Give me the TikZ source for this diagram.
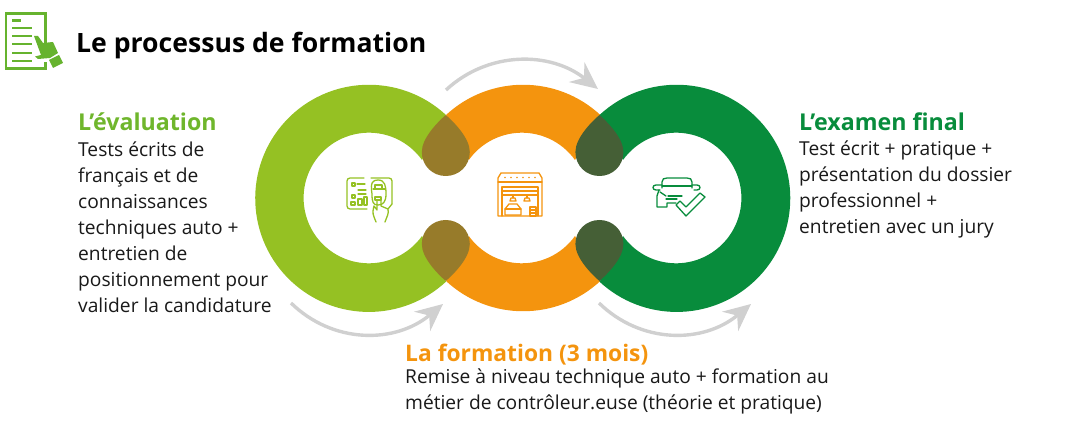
\documentclass[tikz,border=0pt]{standalone}
\usepackage{fontspec}
\setmainfont{Open Sans}
\usetikzlibrary{arrows.meta}
\definecolor{cLime}{HTML}{95C123}
\definecolor{cOrange}{HTML}{F4940E}
\definecolor{cGreen}{HTML}{088C3C}
\definecolor{cBrown}{HTML}{977B2A}
\definecolor{cDark}{HTML}{455F36}
\definecolor{cGrey}{HTML}{D0D0D0}
\definecolor{cDoc}{HTML}{66B32E}
\tikzset{
  bodytext/.style={anchor=north west,align=left,inner sep=0pt,font=\fontsize{19.2}{26}\selectfont,text=black!90},
  headtext/.style={anchor=base west,inner sep=0pt,font=\fontsize{23.2}{26}\selectfont\bfseries},
  flow/.style={draw=cGrey,line width=3.4pt,-{Stealth[length=27pt,width=25pt,inset=9pt]}},
  ic/.style={line width=1.3pt,line cap=round,line join=round,fill=none},
}
\begin{document}
\begin{tikzpicture}[x=1pt,y=-1pt]
\useasboundingbox (0,0) rectangle (1082,422);
% left ring
\fill[cLime] (446,115) arc[start angle=-47.2,end angle=-312.8,radius=113.6] -- (422,236) arc[start angle=35.6,end angle=324.4,radius=65.3] -- cycle;
% centre ring top and bottom
\fill[cOrange] (446,115) arc[start angle=-132.8,end angle=-47.2,radius=113.6] -- (575,160) arc[start angle=-35.6,end angle=-144.4,radius=65.3] -- cycle;
\fill[cOrange] (446,281) arc[start angle=132.8,end angle=47.2,radius=113.6] -- (575,236) arc[start angle=35.6,end angle=144.4,radius=65.3] -- cycle;
% right ring
\fill[cGreen] (599.5,115) arc[start angle=-132.8,end angle=132.8,radius=113.6] -- (623,236) arc[start angle=144.4,end angle=-144.4,radius=65.3] -- cycle;
% lobes
\def\lobetop#1#2{\fill[#2] (#1,115) .. controls (#1-8,122) and (#1-24,138) .. (#1-24,152) .. controls (#1-24,166) and (#1-13,176) .. (#1,176) .. controls (#1+13,176) and (#1+24,166) .. (#1+24,152) .. controls (#1+24,138) and (#1+8,122) .. (#1,115) -- cycle;}
\def\lobebot#1#2{\fill[#2] (#1,281) .. controls (#1-8,274) and (#1-24,258) .. (#1-24,244) .. controls (#1-24,230) and (#1-13,220) .. (#1,220) .. controls (#1+13,220) and (#1+24,230) .. (#1+24,244) .. controls (#1+24,258) and (#1+8,274) .. (#1,281) -- cycle;}
\lobetop{445.8}{cBrown}\lobebot{445.8}{cBrown}
\lobetop{599.4}{cDark}\lobebot{599.4}{cDark}
% flow arrows
\coordinate (a1s) at (446,90); \coordinate (a1e) at (598,89);
\coordinate (a2s) at (291,303); \coordinate (a2e) at (443,304);
\coordinate (a3s) at (599,303); \coordinate (a3e) at (751,304);
\draw[flow] (a1s) .. controls (488,51) and (550,51) .. (a1e);
\draw[flow] (a2s) .. controls (333,344) and (395,344) .. (a2e);
\draw[flow] (a3s) .. controls (641,344) and (703,344) .. (a3e);
% document icon
\draw[cDoc,line width=2.6pt] (45.5,43) -- (45.5,13.5) -- (6,13.5) -- (6,68.5) -- (45.5,68.5) -- (45.5,62);
\foreach \yy in {28,36,44,53,61} \draw[cDoc,line width=2.4pt] (12,\yy) -- (32,\yy);
\draw[cDoc,line width=2.4pt] (12,20.5) -- (20.5,20.5);
\fill[cDoc] (34,36) -- (38,36) -- (43,43) -- (53,42) -- (58,53) -- (50,58) -- (38,59) -- (35,56.5) -- (41,55) -- cycle;
\fill[cDoc] (49,60) -- (59,55) -- (63,63) -- (53,68) -- cycle;
% card icon
\begin{scope}[cLime,ic]
\draw (371,178) -- (389,178) arc[start angle=-90,end angle=0,radius=3] -- (392,204);
\draw (364,178) -- (350,178) arc[start angle=-90,end angle=-180,radius=3] -- (347,206) arc[start angle=180,end angle=90,radius=3] -- (367,209);
\draw (388,209) -- (392,204);
\draw (352,183) rectangle (355,186);
\draw (352,195) rectangle (355,198);
\draw (351,202) rectangle (355,205);
\draw (358,199) rectangle (362,205);
\draw (364,197) rectangle (367,205);
\draw (357,184) -- (365,184); \draw (358,190) -- (366,190);\draw (358,194) -- (366,194);
\draw (372,194) .. controls (370,182) and (373,180) .. (378,180) .. controls (385,180) and (386,186) .. (386,194) .. controls (386,202) and (383,205) .. (378,205) .. controls (373,205) and (372,202) .. (372,194);
\draw (373,189) -- (385,189); \draw (375,185) rectangle (382,189);\draw (375,197) rectangle (381,200);
\draw (376,222) .. controls (373,214) and (372,214) .. (374,206) -- (377,210) -- (377,200) -- (381,200) -- (381,206) -- (388,209) .. controls (389,214) and (387,216) .. (385,222);
\end{scope}
% garage icon
\begin{scope}[cOrange,ic]
\draw (498,216) -- (498,178) -- (501,173) -- (539,173) -- (542,178) -- (542,216) -- cycle;
\draw (498,182) -- (542,182);
\draw (502,216) -- (502,187) -- (538,187) -- (538,216);
\draw (502,191) -- (538,191); \draw (502,195) -- (538,195);
\draw (513,195) -- (513,198); \draw (527,195) -- (527,198);
\draw (510,201) -- (511,198) -- (515,198) -- (516,201) -- cycle;
\draw (524,201) -- (525,198) -- (529,198) -- (530,201) -- cycle;
\draw (505,215) -- (505,209) -- (509,204) -- (517,204) -- (521,209) -- (521,215) -- cycle;
\draw (505,209) -- (521,209);
\draw (530,207) rectangle (536,216); \draw (530,210) -- (536,210); \draw (530,213) -- (536,213);
\foreach \xx in {505,511,517,523,529,535} \fill[cOrange] (\xx,177.5) circle (0.9);
\end{scope}
% car-check icon
\begin{scope}[cGreen,ic]
\draw (662,188) -- (662,182) .. controls (662,179) and (664,178) .. (667,178) -- (687,178) .. controls (690,178) and (692,179) .. (692,182) -- (692,188);
\draw (662,186) -- (692,186);
\draw (662,185) -- (656,185) .. controls (652,185) and (652,190) .. (656,190) -- (660,190);
\draw (692,185) -- (697,185) .. controls (701,185) and (701,190) .. (697,190) -- (694,190);
\draw (659,190) -- (657,196) -- (657,207) -- (667,207) -- (667,203) -- (676,203);
\draw (660,192) -- (666,196);
\draw (666,199) -- (677,199); \draw (668,196) -- (682,196);
\draw (676,205) -- (680,201) -- (686,207) -- (700,193) -- (705,197) -- (686,216) -- cycle;
\end{scope}
% texts
\node[anchor=base west,inner sep=0pt,font=\fontsize{26.6}{30}\selectfont\bfseries] (title) at (76,52.5) {Le processus de formation};
\node[headtext,text=cDoc!80!cLime] (h1) at (78,130.5) {L’évaluation};
\node[bodytext] (b1) at (78,141.5) {Tests écrits de\\français et de\\connaissances\\techniques auto +\\entretien de\\positionnement pour\\valider la candidature};
\node[headtext,text=cGreen] (h3) at (799,130.5) {L’examen final};
\node[bodytext] (b3) at (799,141) {Test écrit + pratique +\\présentation du dossier\\professionnel +\\entretien avec un jury};
\node[headtext,text=cOrange,font=\fontsize{22.8}{26}\selectfont\bfseries] (h2) at (405,361) {La formation (3 mois)};
\node[bodytext] (b2) at (405,369) {Remise à niveau technique auto + formation au\\métier de contrôleur.euse (théorie et pratique)};
\end{tikzpicture}
\end{document}
